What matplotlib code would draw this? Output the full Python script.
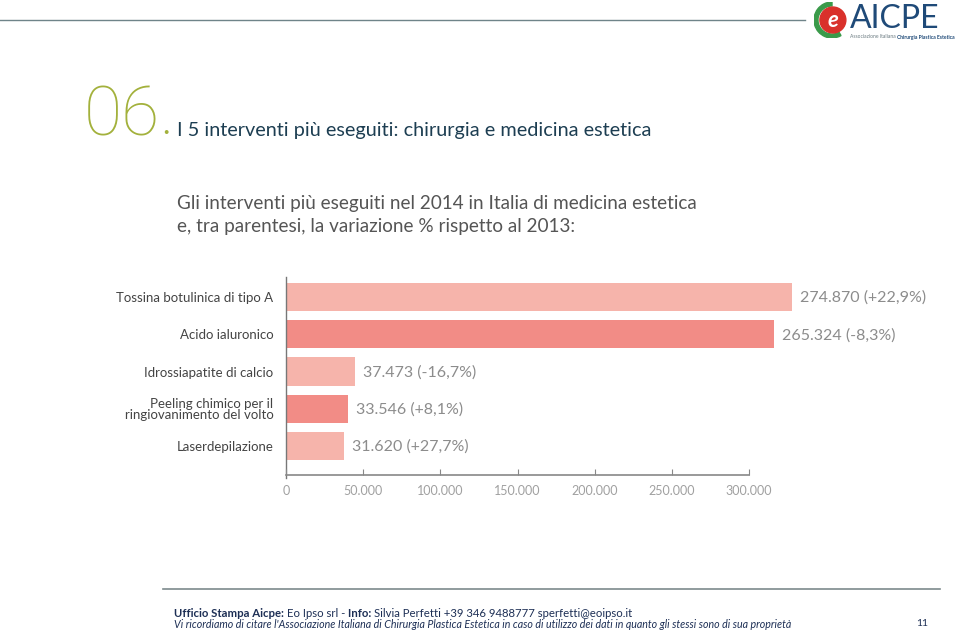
import matplotlib.pyplot as plt
from matplotlib.patches import Circle, Wedge

categories = ['Tossina botulinica di tipo A', 'Acido ialuronico', 'Idrossiapatite di calcio',
              'Peeling chimico per il\nringiovanimento del volto', 'Laserdepilazione']
values = [274870, 265324, 37473, 33546, 31620]
changes = ['+22,9%', '-8,3%', '-16,7%', '+8,1%', '+27,7%']
ticks = [0, 50000, 100000, 150000, 200000, 250000, 300000]
tick_labels = ['0', '50.000', '100.000', '150.000', '200.000', '250.000', '300.000']

W, H = 959, 634
light = '#f6b4ab'
dark = '#f28c86'

plt.rcParams['font.family'] = ['Lato', 'DejaVu Sans']
fig = plt.figure(figsize=(W / 100, H / 100), dpi=100)
fig.patch.set_facecolor('white')
renderer = fig.canvas.get_renderer()


def fx(px):
    return px / W


def fy(py):
    return 1 - py / H


def chain(x, y, parts, gap=0):
    # write text pieces one after another on one baseline
    for txt, kw in parts:
        t = fig.text(fx(x), fy(y), txt, ha='left', va='baseline', **kw)
        bb = t.get_window_extent(renderer)
        x = x + bb.width + gap
    return x


# bars
ax = fig.add_axes([fx(286), fy(478), fx(838) - fx(286), fy(277) - fy(478)])
ypos = list(range(len(categories)))
cols = [light if i % 2 == 0 else dark for i in ypos]
ax.barh(ypos, values, height=0.76, color=cols, clip_on=False)
ax.set_xlim(0, 300000)
ax.set_ylim(4.86, -0.54)
for s in ['top', 'right', 'bottom']:
    ax.spines[s].set_visible(False)
ax.spines['left'].set_color('#777777')
ax.spines['left'].set_linewidth(1.0)
ax.set_xticks([])
ax.set_yticks(ypos)
ax.set_yticklabels(categories, fontsize=9.5, color='#444444', linespacing=0.95)
ax.tick_params(axis='y', length=0, pad=9)
for lab in ax.get_yticklabels():
    lab.set_multialignment('right')
for i, v in enumerate(values):
    ax.text(v + 4500, i + 0.02, f'{v:,}'.replace(',', '.') + f' ({changes[i]})',
            va='center', ha='left', fontsize=11.5, color='#8c8c8c')

# value axis
ax2 = fig.add_axes([fx(286), fy(475), fx(749) - fx(286), 0.001])
ax2.set_xlim(0, 300000)
ax2.patch.set_visible(False)
for s in ['top', 'right', 'left']:
    ax2.spines[s].set_visible(False)
ax2.spines['bottom'].set_color('#888888')
ax2.spines['bottom'].set_linewidth(1.2)
ax2.set_yticks([])
ax2.set_xticks(ticks)
ax2.set_xticklabels(tick_labels, fontsize=9, color='#a0a0a0')
ax2.tick_params(axis='x', direction='in', length=4, color='#888888', pad=7)

# header line and logo
fig.add_artist(plt.Line2D([0, fx(805)], [fy(20), fy(20)], color='#6f8489', lw=1.0))
lg = fig.add_axes([fx(814), fy(38), fx(36), fy(2) - fy(38)])
lg.set_xlim(-1, 1)
lg.set_ylim(-1, 1)
lg.set_aspect('equal')
lg.axis('off')
lg.add_patch(Wedge((0, 0), 1.0, 90, 300, width=0.22, color='#3a9a4a'))
lg.add_patch(Circle((0.05, 0), 0.72, color='#d9312b'))
lg.text(0.05, -0.05, 'e', color='white', fontsize=16, fontweight='bold',
        ha='center', va='center', style='italic')
fig.text(fx(850), fy(28), 'AICPE', fontsize=23, color='#1f4a78', ha='left', va='baseline')
chain(850, 38.5, [('Associazione Italiana ', dict(fontsize=3.6, color='#6a7a80')),
                  ('Chirurgia Plastica Estetica', dict(fontsize=3.6, color='#1f4a78', fontweight='bold'))])

# titles
t06 = fig.text(fx(84), fy(135), '06', fontsize=50, color='#a3b13c', family=['Roboto', 'Lato'],
               fontweight='light', ha='left', va='baseline')
x06 = 84 + t06.get_window_extent(renderer).width
fig.text(fx(x06 + 2), fy(134), '.', fontsize=22, color='#a3b13c', ha='left', va='baseline')
fig.text(fx(177), fy(136), 'I 5 interventi più eseguiti: chirurgia e medicina estetica',
         fontsize=14.3, color='#1d3e52', ha='left', va='baseline')
fig.text(fx(177), fy(209), 'Gli interventi più eseguiti nel 2014 in Italia di medicina estetica',
         fontsize=13.6, color='#555555', ha='left', va='baseline')
fig.text(fx(177), fy(232), 'e, tra parentesi, la variazione % rispetto al 2013:',
         fontsize=13.6, color='#555555', ha='left', va='baseline')

# footer
fig.add_artist(plt.Line2D([fx(163), fx(940)], [fy(589), fy(589)], color='#7d8a8c', lw=1.2))
navy = '#1d2f55'
chain(174, 617, [('Ufficio Stampa Aicpe: ', dict(fontsize=8.2, color=navy, fontweight='bold')),
                 ('Eo Ipso srl - ', dict(fontsize=8.2, color=navy)),
                 ('Info: ', dict(fontsize=8.2, color=navy, fontweight='bold')),
                 ('Silvia Perfetti +39 346 9488777 sperfetti@eoipso.it', dict(fontsize=8.2, color=navy))])
fig.text(fx(174), fy(628), "Vi ricordiamo di citare l'Associazione Italiana di Chirurgia Plastica Estetica "
         "in caso di utilizzo dei dati in quanto gli stessi sono di sua proprietà",
         fontsize=7.7, color=navy, style='italic', ha='left', va='baseline')
fig.text(fx(922), fy(626), '11', fontsize=7.5, color=navy, ha='center', va='baseline')

fig.savefig('out.png', dpi=100, facecolor='white')
